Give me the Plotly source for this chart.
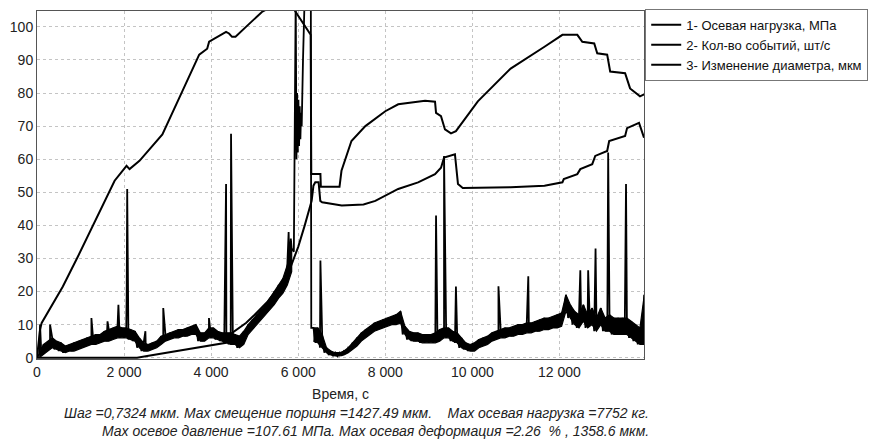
import plotly.graph_objects as go

# ---- 1: axial load, MPa (time s, value) ----
load_t = [0, 69, 107, 594, 937, 1554, 1783, 2057, 2126, 2354, 2743, 2880, 3337, 3726,
          3909, 3954, 4343, 4411, 4480, 4560, 4800, 5166, 5500, 5800, 5943, 6286, 6300,
          6510, 6520, 6949, 6994, 7223, 7543, 8000, 8297, 8914, 9143, 9166, 9280, 9371,
          9509, 9623, 10126, 10880, 11657, 12069, 12411, 12526, 12800, 12869, 13097,
          13166, 13509, 13623, 13851, 13943]
load_v = [0, 8.4, 10.5, 21.5, 30.5, 47.4, 53.5, 58, 57, 59.5, 65.5, 67.5, 80.5, 91.6,
          93.4, 95.5, 98.5, 98, 97, 97, 100, 104.5, 107, 107.6, 104.5, 97.6, 55.5,
          55.5, 51.7, 51.7, 56.5, 65.5, 70, 74.5, 76.6, 77.7, 77.4, 74, 73, 69,
          67.8, 68.5, 77.5, 87.4, 94, 97.6, 97.6, 95.5, 95, 92, 91.6,
          86.5, 86, 81.4, 79, 79.6]

# ---- 3: change of diameter, um ----
diam_t = [0, 2300, 2530, 2970, 3726, 4343, 4480, 4800, 5000, 5300, 5600, 5700, 5800,
          5900, 6000, 6150, 6309, 6350, 6392, 6469, 6507, 6550, 7000, 7500, 7771, 8297,
          8754, 9143, 9280, 9350, 9600, 9670, 9780, 10880, 11657, 12069, 12100, 12411,
          12480, 12754, 12823, 13097, 13143, 13509, 13554, 13829, 13943]
diam_v = [0, 0, 0.5, 1.5, 3.3, 4.5, 7.5, 10.5, 13, 17, 22, 24, 26.5,
          30, 33.5, 40, 47.4, 52, 53, 53, 47.4, 47, 46, 46.3, 47.4, 51,
          53, 55.5, 57.4, 60.5, 61.5, 52.5, 51.3, 51.5, 52, 53, 54, 55.5,
          57, 58.5, 61, 62.5, 65.5, 67, 69.4, 71, 66.5]

# ---- 2: acoustic events per second: lower / upper envelope per 100 s bin ----
events_t = list(range(0, 14000, 100))
events_lo = [0, 1, 2, 3, 2.5, 2, 1.5, 2, 2, 2.5,
             3, 3.5, 4, 4, 4.5, 5, 5, 5.5, 6, 6,
             6, 5.5, 5, 3, 2, 2, 2.5, 3, 4, 5,
             5.5, 6, 6, 6.5, 6.5, 7, 7, 5, 5, 6,
             6, 5.5, 5, 4.5, 4, 4, 3, 4, 7, 8.5,
             10, 11.5, 13, 14.5, 16, 18, 19.5, 22, 26, 32,
             40, 40, 40, 5, 4.5, 3, 1.5, 0.8, 0.5, 0.5,
             0.8, 1.5, 2.5, 3.5, 5, 6, 7, 8, 8.5, 9,
             9.5, 10, 10, 10.5, 7, 5.5, 5, 5, 4.5, 4.5,
             4.5, 4.5, 5, 6, 6, 5, 4.5, 3, 2.5, 2,
             2, 3, 3.5, 4, 5, 5.5, 6, 6, 6.5, 6.5,
             7, 7, 7.5, 7.5, 8, 8, 8.5, 8.5, 9, 9,
             9.5, 14, 12, 10, 9, 11, 9, 10, 8, 10,
             8, 8, 7, 7, 7, 7, 6, 5, 4, 4]
events_hi = [1, 4, 5, 6, 5, 4.5, 3.5, 4, 4.5, 5,
             5.5, 6, 6.5, 7, 7, 8, 8.5, 9, 9.5, 9,
             9, 8.5, 8, 6, 4.5, 4, 4.5, 5, 6.5, 7,
             7.5, 8, 8.5, 8.5, 9, 9.5, 10, 7.5, 7.5, 9,
             9, 8, 7.5, 7.5, 7.5, 7, 6.5, 8, 10, 11.5,
             13, 14.5, 16, 18, 20, 22, 24, 28, 33, 43,
             45, 45, 45, 9, 9, 7, 3, 2, 1.5, 1.5,
             2, 3, 4.5, 6, 7.5, 8.5, 9.5, 10.5, 11, 11.5,
             12, 12.5, 13, 14, 9.5, 8, 7.5, 7.5, 7, 7,
             7, 7.5, 8.5, 9, 9, 8, 7.5, 6, 4.5, 4,
             4.5, 5.5, 6, 6.5, 7.5, 8, 8.5, 9, 9, 9.5,
             10, 10, 10.5, 10.5, 11, 11.5, 12, 12, 12.5, 13,
             13.5, 19, 16, 14, 13, 16, 13, 15, 12, 15,
             12, 13, 12, 12, 12, 12, 11, 10, 9, 19]

# isolated bursts of events
spike_t = [70, 300, 1250, 1620, 1870, 2060, 2072, 2490, 2900, 3950, 4343, 4457,
           5780, 5830, 6510, 9166, 9350, 9623, 10600, 11285, 12480, 12660, 12830,
           13120, 13530]
spike_v = [10, 10, 12, 11, 16, 19, 51, 8, 15, 12, 52.5, 67.7,
           38, 36, 29.4, 43, 61, 21.5, 21.6, 24.6, 26.4, 26.4, 33,
           62, 52.5]

# failure interval: counts saturate the scale
burst_t = [5943, 5960, 5975, 5990, 6005, 6020, 6035, 6050, 6065, 6080, 6110, 6150,
           6200, 6250, 6290, 6300]
burst_v = [110, 60, 80, 62, 78, 64, 76, 66, 74, 70, 90, 110,
           110, 110, 110, 9]


def outside_burst(t):
    return not (burst_t[0] <= t <= burst_t[-1])


# events: solid band between the envelopes (outlined polygon) ...
band = [(t + 50, lo, hi) for t, lo, hi in zip(events_t, events_lo, events_hi)]
seg_a = [b for b in band if b[0] < burst_t[0]]
seg_b = [b for b in band if b[0] > burst_t[-1]]
band_x, band_y = [], []
for seg in (seg_a, seg_b):
    band_x += [b[0] for b in seg] + [b[0] for b in reversed(seg)] + [None]
    band_y += [b[2] for b in seg] + [b[1] for b in reversed(seg)] + [None]

# ... plus the raw saw-tooth between lo and hi with spikes and burst merged in
pts = []
for t, lo, hi in zip(events_t, events_lo, events_hi):
    for tt, v in ((t, lo), (t + 50, hi)):
        if outside_burst(tt):
            pts.append((tt, v))
pts += list(zip(spike_t, spike_v))
pts += list(zip(burst_t, burst_v))
pts.sort(key=lambda p: p[0])
ev_x = [p[0] for p in pts]
ev_y = [p[1] for p in pts]

x_ticks = [0, 2000, 4000, 6000, 8000, 10000, 12000]
x_labels = ["0", "2 000", "4 000", "6 000", "8 000", "10 000", "12 000"]
y_ticks = [0, 10, 20, 30, 40, 50, 60, 70, 80, 90, 100]

names = ["1- Осевая нагрузка, МПа", "2- Кол-во событий, шт/с", "3- Изменение диаметра, мкм"]

line = dict(color="black", width=2)
fig = go.Figure()
fig.add_trace(go.Scatter(x=load_t, y=load_v, mode="lines", line=line, name=names[0]))
fig.add_trace(go.Scatter(x=band_x, y=band_y, mode="lines", fill="toself",
                         fillcolor="black", line=dict(color="black", width=1.2),
                         showlegend=False, hoverinfo="skip", legendgroup="ev"))
fig.add_trace(go.Scatter(x=ev_x, y=ev_y, mode="lines", legendgroup="ev",
                         line=dict(color="black", width=1.8, simplify=False),
                         name=names[1]))
fig.add_trace(go.Scatter(x=diam_t, y=diam_v, mode="lines", line=line, name=names[2]))

font = "Liberation Sans, Arial, sans-serif"
fig.update_layout(
    width=877, height=443,
    margin=dict(l=37, r=230, t=9, b=84),
    paper_bgcolor="white", plot_bgcolor="white",
    font=dict(family=font, size=14, color="#222"),
    showlegend=True,
    legend=dict(x=1.002, y=1.006, xanchor="left", yanchor="top",
                bordercolor="#777", borderwidth=1, bgcolor="white",
                font=dict(size=13, color="#111"), itemwidth=30,
                tracegroupgap=0),
    xaxis=dict(range=[0, 13943], tickvals=x_ticks, ticktext=x_labels,
               showgrid=True, gridcolor="#c4c4c4", griddash="dot", gridwidth=1,
               showline=True, linecolor="#555", linewidth=1, mirror=True,
               zeroline=False, ticks="", tickfont=dict(size=14),
               title=dict(text="Время, с", font=dict(size=14), standoff=10)),
    yaxis=dict(range=[-0.4, 104.8], tickvals=y_ticks,
               showgrid=True, gridcolor="#c4c4c4", griddash="dot", gridwidth=1,
               showline=True, linecolor="#555", linewidth=1, mirror=True,
               zeroline=False, ticks="", tickfont=dict(size=14)),
)

notes = [
    "<i>Шаг =0,7324 мкм. Мах смещение поршня =1427.49 мкм.\u00a0\u00a0\u00a0\u00a0Мах осевая нагрузка =7752 кг.</i>",
    "<i>Мах осевое давление =107.61 МПа. Мах осевая деформация =2.26\u00a0\u00a0% , 1358.6 мкм.</i>",
]
for txt, yy in zip(notes, [-0.154, -0.206]):
    fig.add_annotation(text=txt, xref="paper", yref="paper", x=1.012, y=yy,
                       xanchor="right", yanchor="middle", showarrow=False,
                       font=dict(family=font, size=14, color="#222"))

fig.write_html("out.html")
